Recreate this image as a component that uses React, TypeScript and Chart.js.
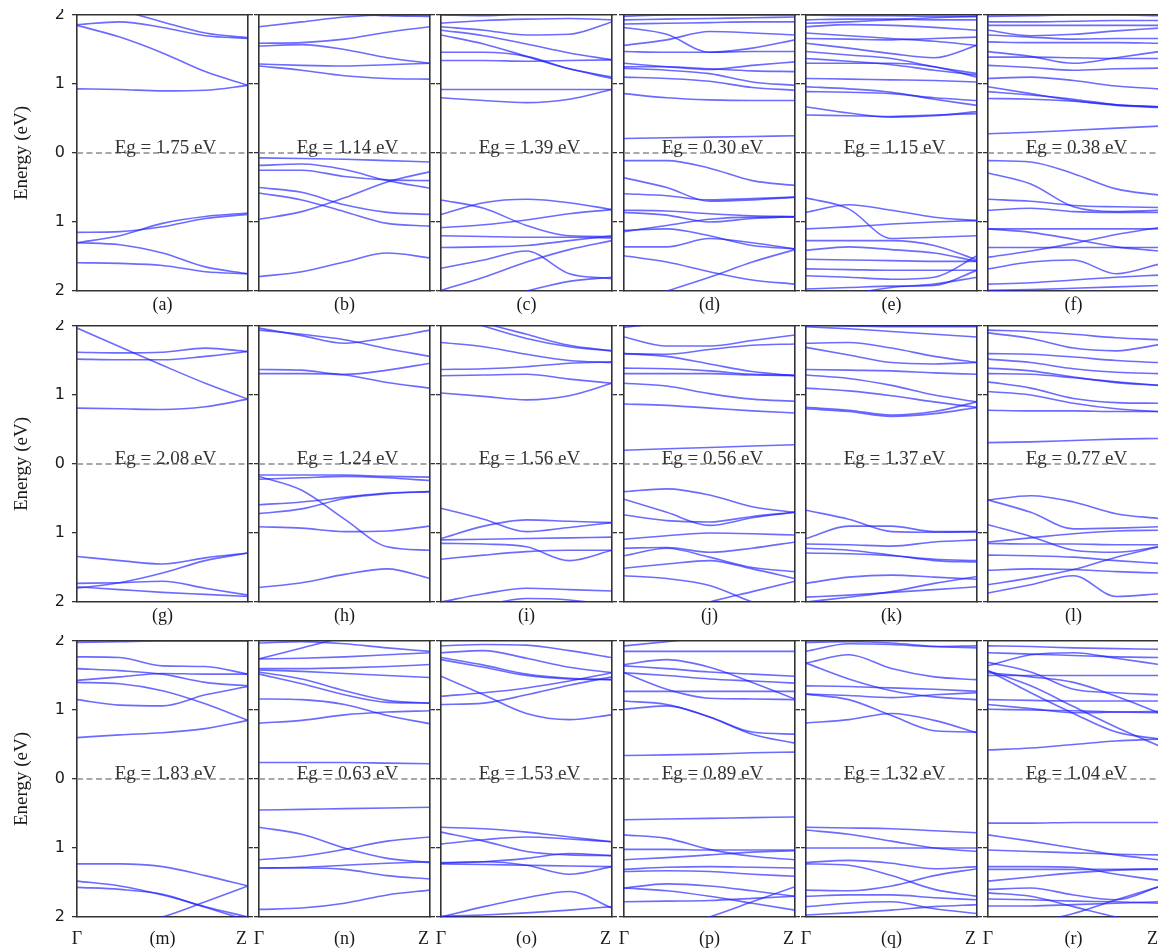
import React, { useEffect, useRef } from 'react';
import { Chart, registerables } from 'chart.js';
Chart.register(...registerables);

// ---------- data ----------
const kPath = [0, 0.25, 0.5, 0.75, 1];
const yTickValues = [2, 1, 0, -1, -2];
const panelLetters = ['a', 'b', 'c', 'd', 'e', 'f', 'g', 'h', 'i', 'j', 'k', 'l', 'm', 'n', 'o', 'p', 'q', 'r'];
const gapValues = ['1.75', '1.14', '1.39', '0.30', '1.15', '0.38', '2.08', '1.24', '1.56', '0.56', '1.37', '0.77', '1.83', '0.63', '1.53', '0.89', '1.32', '1.04'];
const kLabelsBottom = ['Γ', 'Z'];

const bandsA = [
  [1.86, 1.90, 1.82, 1.70, 1.66], [2.30, 2.08, 1.90, 1.74, 1.67], [1.85, 1.68, 1.45, 1.18, 0.98],
  [0.93, 0.92, 0.90, 0.91, 0.98], [-1.15, -1.14, -1.07, -0.95, -0.89], [-1.30, -1.20, -1.02, -0.92, -0.87],
  [-1.30, -1.33, -1.45, -1.65, -1.75], [-1.59, -1.60, -1.63, -1.72, -1.75],
];
const bandsB = [
  [1.83, 1.90, 1.97, 2.00, 2.00], [2.10, 2.05, 2.02, 1.99, 1.98], [1.59, 1.60, 1.65, 1.75, 1.83],
  [1.55, 1.57, 1.50, 1.38, 1.30], [1.29, 1.27, 1.26, 1.28, 1.30], [1.26, 1.20, 1.12, 1.08, 1.07],
  [-0.07, -0.08, -0.09, -0.11, -0.13], [-0.18, -0.16, -0.24, -0.40, -0.51], [-0.25, -0.25, -0.34, -0.39, -0.40],
  [-0.96, -0.85, -0.65, -0.42, -0.27], [-0.50, -0.57, -0.75, -0.86, -0.89], [-0.58, -0.68, -0.85, -1.02, -1.06],
  [-1.79, -1.72, -1.58, -1.45, -1.52],
];
const bandsC = [
  [2.00, 1.99, 2.02, 2.05, 2.08], [1.88, 1.92, 1.94, 1.95, 1.93], [1.83, 1.78, 1.71, 1.72, 1.90],
  [1.78, 1.70, 1.58, 1.45, 1.35], [1.71, 1.58, 1.40, 1.22, 1.10], [1.46, 1.46, 1.40, 1.22, 1.08],
  [1.34, 1.34, 1.33, 1.34, 1.35], [0.92, 0.92, 0.92, 0.92, 0.92], [0.80, 0.76, 0.73, 0.78, 0.92],
  [-0.68, -0.80, -1.05, -1.20, -1.21], [-0.89, -0.72, -0.67, -0.72, -0.82], [-1.08, -1.04, -0.97, -0.88, -0.82],
  [-1.20, -1.21, -1.22, -1.22, -1.23], [-1.37, -1.36, -1.34, -1.27, -1.20], [-1.67, -1.55, -1.42, -1.75, -1.82],
  [-1.99, -1.80, -1.58, -1.40, -1.27], [-2.30, -2.15, -2.00, -1.86, -1.80],
];
const bandsD = [
  [1.98, 2.00, 2.00, 2.00, 2.00], [1.93, 1.94, 1.95, 1.96, 1.97], [1.87, 1.88, 1.89, 1.90, 1.90],
  [1.82, 1.72, 1.46, 1.52, 1.64], [1.56, 1.64, 1.76, 1.74, 1.71], [1.47, 1.46, 1.46, 1.47, 1.47],
  [1.30, 1.25, 1.21, 1.27, 1.32], [1.25, 1.25, 1.22, 1.19, 1.18], [1.23, 1.20, 1.15, 1.03, 0.98],
  [1.10, 1.08, 1.04, 0.95, 0.91], [0.86, 0.80, 0.77, 0.76, 0.76], [0.21, 0.22, 0.23, 0.24, 0.25],
  [-0.11, -0.11, -0.22, -0.40, -0.47], [-0.36, -0.50, -0.70, -0.68, -0.64], [-0.59, -0.62, -0.68, -0.66, -0.64],
  [-0.86, -0.90, -1.00, -0.95, -0.92], [-0.83, -0.84, -0.88, -0.91, -0.92], [-1.12, -1.10, -1.20, -1.34, -1.39],
  [-1.14, -1.05, -0.96, -0.93, -0.93], [-1.36, -1.36, -1.24, -1.30, -1.39], [-1.49, -1.58, -1.72, -1.84, -1.90],
  [-2.20, -2.00, -1.80, -1.58, -1.40],
];
const bandsE = [
  [2.00, 1.99, 1.99, 1.98, 1.98], [1.93, 1.94, 1.94, 1.93, 1.93], [1.88, 1.90, 1.93, 1.96, 1.98],
  [1.83, 1.86, 1.85, 1.82, 1.78], [1.74, 1.70, 1.66, 1.62, 1.56], [1.66, 1.65, 1.64, 1.66, 1.68],
  [1.59, 1.52, 1.44, 1.38, 1.56], [1.47, 1.42, 1.37, 1.25, 1.15], [1.37, 1.33, 1.28, 1.20, 1.13],
  [1.30, 1.30, 1.30, 1.25, 1.10], [1.08, 1.07, 1.06, 1.05, 1.03], [0.96, 0.93, 0.88, 0.78, 0.69],
  [0.89, 0.88, 0.86, 0.80, 0.76], [0.67, 0.58, 0.52, 0.54, 0.60], [0.55, 0.54, 0.53, 0.55, 0.57],
  [-0.65, -0.81, -1.24, -1.22, -1.20], [-0.86, -0.75, -0.83, -0.93, -0.98], [-1.10, -1.07, -1.03, -1.00, -0.98],
  [-1.27, -1.27, -1.27, -1.34, -1.55], [-1.41, -1.36, -1.40, -1.45, -1.57], [-1.54, -1.55, -1.56, -1.57, -1.57],
  [-1.68, -1.69, -1.70, -1.70, -1.70], [-1.78, -1.80, -1.83, -1.80, -1.49], [-1.97, -1.95, -1.93, -1.92, -1.70],
  [-2.20, -2.05, -1.95, -1.90, -1.80],
];
const bandsF = [
  [1.98, 1.99, 2.00, 2.00, 1.99], [1.90, 1.90, 1.91, 1.92, 1.92], [1.85, 1.85, 1.85, 1.85, 1.85],
  [1.78, 1.70, 1.72, 1.77, 1.81], [1.71, 1.68, 1.65, 1.66, 1.66], [1.61, 1.60, 1.60, 1.60, 1.59],
  [1.47, 1.40, 1.30, 1.38, 1.47], [1.39, 1.39, 1.38, 1.37, 1.37], [1.27, 1.24, 1.20, 1.22, 1.23],
  [1.08, 1.10, 1.05, 0.97, 0.93], [0.96, 0.86, 0.76, 0.69, 0.66], [0.89, 0.84, 0.78, 0.70, 0.67],
  [0.79, 0.78, 0.75, 0.70, 0.67], [0.28, 0.30, 0.33, 0.36, 0.39],
  [-0.11, -0.13, -0.30, -0.52, -0.61], [-0.29, -0.45, -0.78, -0.85, -0.83], [-0.67, -0.70, -0.76, -0.78, -0.79],
  [-0.83, -0.80, -0.85, -0.86, -0.86], [-1.10, -1.10, -1.10, -1.10, -1.10], [-1.10, -1.15, -1.25, -1.36, -1.42],
  [-1.37, -1.37, -1.37, -1.37, -1.37], [-1.51, -1.42, -1.31, -1.18, -1.08], [-1.68, -1.58, -1.55, -1.75, -1.61],
  [-1.90, -1.88, -1.84, -1.80, -1.77], [-1.99, -1.98, -1.96, -1.94, -1.92],
];
const bandsG = [
  [1.97, 1.70, 1.43, 1.17, 0.94], [1.62, 1.61, 1.62, 1.68, 1.63], [1.52, 1.51, 1.51, 1.56, 1.63],
  [0.81, 0.80, 0.79, 0.83, 0.94], [-1.34, -1.40, -1.45, -1.36, -1.29], [-1.80, -1.72, -1.58, -1.40, -1.29],
  [-1.73, -1.72, -1.70, -1.80, -1.90], [-1.78, -1.82, -1.86, -1.89, -1.92],
];
const bandsH = [
  [1.97, 1.86, 1.75, 1.83, 1.94], [1.94, 1.88, 1.80, 1.67, 1.56], [1.37, 1.36, 1.30, 1.36, 1.46],
  [1.31, 1.31, 1.29, 1.18, 1.10], [-0.16, -0.16, -0.16, -0.18, -0.19], [-0.22, -0.20, -0.18, -0.20, -0.24],
  [-0.18, -0.38, -0.80, -1.20, -1.25], [-0.59, -0.55, -0.48, -0.42, -0.40], [-0.72, -0.65, -0.50, -0.43, -0.40],
  [-0.91, -0.93, -0.98, -0.97, -0.90], [-1.79, -1.72, -1.60, -1.52, -1.66],
];
const bandsI = [
  [2.20, 2.00, 1.82, 1.70, 1.64], [2.30, 2.05, 1.88, 1.72, 1.64], [1.76, 1.70, 1.59, 1.50, 1.47],
  [1.37, 1.38, 1.41, 1.46, 1.48], [1.28, 1.29, 1.30, 1.23, 1.17], [1.03, 0.98, 0.93, 0.99, 1.17],
  [-0.64, -0.80, -0.98, -0.92, -0.85], [-1.08, -0.90, -0.81, -0.83, -0.85], [-1.10, -1.09, -1.08, -1.07, -1.06],
  [-1.15, -1.16, -1.20, -1.40, -1.25], [-1.38, -1.32, -1.27, -1.25, -1.25], [-2.00, -1.88, -1.80, -1.82, -1.84],
  [-2.20, -2.05, -1.95, -1.97, -2.05],
];
const bandsJ = [
  [1.98, 2.05, 2.10, 2.10, 2.10], [1.84, 1.71, 1.71, 1.79, 1.87], [1.60, 1.59, 1.66, 1.72, 1.74],
  [1.60, 1.56, 1.45, 1.34, 1.28], [1.39, 1.38, 1.35, 1.30, 1.29], [1.31, 1.31, 1.31, 1.29, 1.28],
  [1.17, 1.13, 1.02, 0.94, 0.91], [0.87, 0.85, 0.81, 0.77, 0.74], [0.20, 0.22, 0.24, 0.26, 0.28],
  [-0.40, -0.36, -0.45, -0.62, -0.70], [-0.51, -0.70, -0.89, -0.78, -0.70], [-0.74, -0.82, -0.84, -0.76, -0.70],
  [-1.09, -1.04, -1.00, -1.01, -1.03], [-1.22, -1.21, -1.28, -1.22, -1.13], [-1.33, -1.22, -1.35, -1.50, -1.56],
  [-1.51, -1.45, -1.40, -1.52, -1.66], [-1.62, -1.66, -1.76, -2.00, -2.20], [-2.30, -2.20, -2.00, -1.85, -1.70],
];
const bandsK = [
  [2.02, 2.00, 1.99, 1.99, 1.99], [1.99, 1.96, 1.92, 1.88, 1.84], [1.75, 1.76, 1.68, 1.56, 1.47],
  [1.69, 1.58, 1.47, 1.45, 1.47], [1.37, 1.36, 1.35, 1.32, 1.30], [1.29, 1.24, 1.14, 1.00, 0.90],
  [1.10, 1.06, 0.99, 0.90, 0.82], [0.82, 0.78, 0.71, 0.76, 0.90], [0.80, 0.76, 0.69, 0.73, 0.82],
  [-0.67, -0.80, -0.98, -0.99, -0.98], [-1.08, -0.90, -0.90, -0.98, -0.98], [-1.16, -1.17, -1.19, -1.13, -1.10],
  [-1.22, -1.25, -1.32, -1.40, -1.42], [-1.29, -1.30, -1.33, -1.38, -1.40], [-1.73, -1.64, -1.61, -1.64, -1.67],
  [-2.00, -1.93, -1.85, -1.73, -1.63], [-1.93, -1.90, -1.86, -1.82, -1.78],
];
const bandsL = [
  [1.94, 1.92, 1.88, 1.83, 1.80], [1.90, 1.82, 1.68, 1.64, 1.73], [1.60, 1.59, 1.55, 1.50, 1.47],
  [1.52, 1.47, 1.38, 1.33, 1.31], [1.39, 1.35, 1.26, 1.18, 1.14], [1.31, 1.30, 1.25, 1.19, 1.14],
  [1.19, 1.10, 0.95, 0.89, 0.88], [1.05, 1.00, 0.88, 0.80, 0.76], [0.78, 0.77, 0.77, 0.76, 0.76],
  [0.31, 0.32, 0.34, 0.36, 0.37],
  [-0.52, -0.46, -0.55, -0.72, -0.79], [-0.52, -0.70, -0.94, -0.93, -0.91], [-0.88, -1.05, -1.25, -1.28, -1.20],
  [-1.13, -1.07, -1.01, -0.97, -0.96], [-1.15, -1.16, -1.16, -1.17, -1.17], [-1.32, -1.33, -1.35, -1.40, -1.44],
  [-1.54, -1.52, -1.53, -1.56, -1.58], [-1.75, -1.65, -1.53, -1.35, -1.20], [-1.87, -1.75, -1.62, -1.92, -1.88],
];
const bandsM = [
  [1.98, 1.99, 2.00, 2.00, 2.00], [1.77, 1.76, 1.64, 1.63, 1.52], [1.60, 1.57, 1.52, 1.40, 1.35],
  [1.43, 1.48, 1.53, 1.52, 1.52], [1.40, 1.38, 1.28, 1.09, 0.85], [1.15, 1.07, 1.06, 1.22, 1.34],
  [0.60, 0.64, 0.67, 0.73, 0.85],
  [-1.23, -1.23, -1.27, -1.40, -1.55], [-1.48, -1.55, -1.68, -1.85, -2.00], [-1.57, -1.60, -1.67, -1.86, -2.05],
  [-2.30, -2.15, -2.00, -1.78, -1.55],
];
const bandsN = [
  [1.74, 1.90, 2.05, 2.15, 2.20], [1.97, 1.99, 1.96, 1.90, 1.85], [1.74, 1.75, 1.77, 1.80, 1.83],
  [1.60, 1.60, 1.61, 1.63, 1.66], [1.58, 1.56, 1.53, 1.50, 1.47], [1.52, 1.38, 1.22, 1.11, 1.10],
  [1.55, 1.45, 1.28, 1.14, 1.10], [1.16, 1.15, 1.08, 0.92, 0.80], [0.81, 0.85, 0.93, 0.97, 0.99],
  [0.24, 0.24, 0.24, 0.23, 0.22],
  [-0.45, -0.44, -0.43, -0.42, -0.41], [-0.70, -0.80, -1.00, -1.15, -1.21], [-1.17, -1.12, -1.02, -0.90, -0.84],
  [-1.29, -1.28, -1.25, -1.22, -1.20], [-1.29, -1.29, -1.31, -1.40, -1.45], [-1.89, -1.87, -1.80, -1.68, -1.61],
];
const bandsO = [
  [1.93, 1.95, 1.94, 1.86, 1.76], [1.83, 1.86, 1.75, 1.62, 1.54], [1.76, 1.65, 1.52, 1.46, 1.44],
  [1.73, 1.62, 1.50, 1.45, 1.44], [1.49, 1.22, 0.95, 0.86, 0.93], [1.20, 1.25, 1.32, 1.42, 1.54],
  [1.08, 1.10, 1.22, 1.36, 1.48],
  [-0.70, -0.72, -0.77, -0.84, -0.91], [-0.77, -0.90, -1.05, -1.10, -1.11], [-0.94, -0.88, -0.84, -0.87, -0.91],
  [-1.21, -1.20, -1.25, -1.38, -1.27], [-1.22, -1.20, -1.15, -1.08, -1.11], [-1.23, -1.24, -1.25, -1.26, -1.27],
  [-2.00, -1.85, -1.72, -1.63, -1.87], [-1.99, -1.97, -1.94, -1.90, -1.85],
];
const bandsP = [
  [1.93, 1.99, 2.05, 2.10, 2.10], [1.85, 1.85, 1.85, 1.85, 1.85], [1.66, 1.73, 1.62, 1.40, 1.16],
  [1.64, 1.60, 1.55, 1.52, 1.49], [1.54, 1.50, 1.45, 1.42, 1.39], [1.54, 1.30, 1.17, 1.16, 1.15],
  [1.27, 1.27, 1.27, 1.27, 1.27], [1.13, 1.08, 0.90, 0.65, 0.52], [1.01, 1.06, 0.90, 0.68, 0.65],
  [0.34, 0.35, 0.36, 0.38, 0.39],
  [-0.59, -0.58, -0.57, -0.56, -0.55], [-0.81, -0.86, -1.02, -1.12, -1.17], [-1.02, -1.02, -1.03, -1.03, -1.03],
  [-1.17, -1.14, -1.10, -1.06, -1.04], [-1.34, -1.33, -1.34, -1.38, -1.41], [-1.31, -1.28, -1.27, -1.28, -1.29],
  [-1.58, -1.52, -1.55, -1.62, -1.70], [-1.78, -1.77, -1.76, -1.73, -1.70], [-2.40, -2.20, -2.00, -1.78, -1.56],
  [-1.58, -1.62, -1.70, -1.80, -1.90],
];
const bandsQ = [
  [1.98, 1.99, 1.97, 1.92, 1.90], [1.85, 1.96, 1.95, 1.92, 1.93], [1.68, 1.80, 1.60, 1.48, 1.44],
  [1.68, 1.45, 1.28, 1.19, 1.15], [1.35, 1.34, 1.32, 1.30, 1.27], [1.23, 1.21, 1.18, 1.22, 1.25],
  [1.23, 1.15, 0.92, 0.70, 0.68], [0.81, 0.86, 0.95, 0.85, 0.67],
  [-0.70, -0.71, -0.72, -0.75, -0.78], [-0.74, -0.80, -0.90, -1.00, -1.05], [-1.00, -1.00, -1.00, -1.00, -1.00],
  [-1.21, -1.18, -1.22, -1.30, -1.27], [-1.23, -1.25, -1.40, -1.60, -1.70], [-1.61, -1.62, -1.55, -1.40, -1.30],
  [-1.70, -1.68, -1.68, -1.72, -1.75], [-1.85, -1.80, -1.78, -1.88, -1.95], [-1.97, -1.94, -1.90, -1.85, -1.82],
];
const bandsR = [
  [1.93, 1.92, 1.90, 1.89, 1.88], [1.83, 1.81, 1.79, 1.77, 1.76], [1.64, 1.80, 1.83, 1.75, 1.66],
  [1.69, 1.55, 1.30, 1.25, 1.22], [1.57, 1.35, 1.05, 0.75, 0.48], [1.57, 1.25, 0.95, 0.68, 0.58],
  [1.54, 1.48, 1.40, 1.20, 0.96], [1.50, 1.50, 1.50, 1.50, 1.50], [1.15, 1.14, 1.13, 1.13, 1.13],
  [1.08, 1.02, 0.96, 0.97, 0.98], [1.01, 1.00, 0.99, 0.97, 0.96], [0.42, 0.45, 0.50, 0.55, 0.58],
  [-0.64, -0.64, -0.63, -0.63, -0.63], [-0.81, -0.90, -1.00, -1.10, -1.17], [-1.03, -1.05, -1.07, -1.09, -1.10],
  [-1.27, -1.27, -1.28, -1.38, -1.47], [-1.31, -1.31, -1.31, -1.31, -1.31], [-1.48, -1.42, -1.36, -1.32, -1.30],
  [-1.60, -1.58, -1.68, -1.75, -1.56], [-1.74, -1.75, -1.77, -1.78, -1.80], [-1.84, -1.84, -1.82, -1.80, -1.78],
  [-2.30, -2.10, -1.95, -1.75, -1.56], [-1.65, -1.70, -1.85, -2.00, -2.10],
];
const allBands = [bandsA, bandsB, bandsC, bandsD, bandsE, bandsF, bandsG, bandsH, bandsI,
  bandsJ, bandsK, bandsL, bandsM, bandsN, bandsO, bandsP, bandsQ, bandsR];

// ---------- layout / style ----------
const COL_LEFT = [77, 259, 441, 624, 806, 988];
const ROW_TOP = [15, 326, 641];
const PLOT_W = 171;
const PLOT_H = 276;
const PAD_R = 8;
const PAD_T = 6;
const PAD_B = 34;
const SERIF = "'Liberation Serif', 'Times New Roman', serif";
const SANS = "'DejaVu Sans', sans-serif";
const AXIS_COLOR = '#333333';
const BAND_COLOR = 'rgba(30, 30, 255, 0.66)';

const egPlugin = {
  id: 'egLabel',
  afterDatasetsDraw(chart: any, _args: any, opts: any) {
    const { ctx, scales } = chart;
    ctx.save();
    ctx.font = `19px ${SERIF}`;
    ctx.fillStyle = '#333';
    ctx.textAlign = 'center';
    ctx.textBaseline = 'alphabetic';
    ctx.fillText(opts.text, scales.x.getPixelForValue(0.5) + 3, scales.y.getPixelForValue(0) - 0.5);
    ctx.restore();
  },
};

function zeroPad(s: any) {
  s.paddingTop = 0; s.paddingBottom = 0; s.paddingLeft = 0; s.paddingRight = 0;
}

function Panel({ idx }: { idx: number }) {
  const ref = useRef<HTMLCanvasElement>(null);
  const row = Math.floor(idx / 6);
  const col = idx % 6;
  const plotLeft = COL_LEFT[col];
  const plotTop = ROW_TOP[row];
  const padL = col === 0 ? plotLeft : 8;
  const W = padL + PLOT_W + PAD_R;
  const H = PAD_T + PLOT_H + PAD_B;
  const isBottom = row === 2;

  useEffect(() => {
    if (!ref.current) return;
    const bandSets = allBands[idx].map((band) => ({
      data: kPath.map((x, i) => ({ x, y: band[i] })),
      borderColor: BAND_COLOR,
      borderWidth: 1.6,
      pointRadius: 0,
      cubicInterpolationMode: 'monotone' as const,
      fill: false,
    }));
    const zeroLine = {
      data: [{ x: 0, y: 0 }, { x: 1, y: 0 }],
      borderColor: '#8c8c8c',
      borderWidth: 1.4,
      borderDash: [6, 3.5],
      pointRadius: 0,
      tension: 0,
      fill: false,
    };
    const xTickVals = isBottom ? [0, 0.5, 0.962] : [0.5];
    const xTickText = isBottom
      ? [kLabelsBottom[0], `(${panelLetters[idx]})`, kLabelsBottom[1]]
      : [`(${panelLetters[idx]})`];

    const yCommon = {
      type: 'linear' as const,
      min: -2,
      max: 2,
      afterBuildTicks: (s: any) => { s.ticks = yTickValues.map((v) => ({ value: v })); },
      grid: { drawOnChartArea: false, drawTicks: true, tickLength: 5, color: AXIS_COLOR, lineWidth: 1.3 },
      border: { display: true, color: AXIS_COLOR, width: 1.6 },
    };

    const chart = new Chart(ref.current, {
      type: 'line',
      data: { datasets: [...bandSets, zeroLine] as any },
      plugins: [egPlugin as any],
      options: {
        responsive: false,
        animation: false,
        devicePixelRatio: 1,
        events: [],
        layout: { padding: { top: PAD_T, left: 0, right: 0, bottom: 0 }, autoPadding: false } as any,
        plugins: {
          legend: { display: false },
          tooltip: { enabled: false },
          egLabel: { text: `Eg = ${gapValues[idx]} eV` },
        } as any,
        scales: {
          x: {
            type: 'linear',
            position: 'bottom',
            min: 0,
            max: 1,
            afterBuildTicks: (s: any) => { s.ticks = xTickVals.map((v) => ({ value: v })); },
            ticks: {
              autoSkip: false,
              maxRotation: 0,
              minRotation: 0,
              padding: isBottom ? 11 : 3,
              font: { family: SERIF, size: 18 },
              color: '#1a1a1a',
              callback: (_v: any, i: number) => xTickText[i],
            },
            grid: { display: false, drawTicks: false },
            border: { display: true, color: AXIS_COLOR, width: 1.6 },
            afterFit: (s: any) => { s.height = PAD_B; zeroPad(s); },
          },
          xTop: {
            type: 'linear',
            position: 'top',
            min: 0,
            max: 1,
            ticks: { display: false },
            grid: { display: false, drawTicks: false },
            border: { display: true, color: AXIS_COLOR, width: 1.6 },
            afterFit: (s: any) => { s.height = 0; zeroPad(s); },
          },
          y: {
            ...yCommon,
            position: 'left',
            ticks: {
              display: col === 0,
              padding: 7,
              font: { family: SANS, size: 16 },
              color: '#1a1a1a',
              callback: (v: any) => String(Math.abs(Number(v))),
            },
            title: {
              display: col === 0,
              text: 'Energy (eV)',
              font: { family: SERIF, size: 19 },
              color: '#1a1a1a',
              padding: { top: 11, bottom: 0 },
            },
            afterFit: (s: any) => { s.width = padL; zeroPad(s); },
          },
          y2: {
            ...yCommon,
            position: 'right',
            ticks: { display: false },
            afterFit: (s: any) => { s.width = PAD_R; zeroPad(s); },
          },
        } as any,
      },
    });
    return () => chart.destroy();
  }, [idx]);

  return (
    <canvas
      ref={ref}
      width={W}
      height={H}
      style={{ position: 'absolute', left: plotLeft - padL, top: plotTop - PAD_T, width: W, height: H }}
    />
  );
}

export default function App() {
  return (
    <div style={{ position: 'absolute', left: 0, top: 0, width: 1158, height: 951, overflow: 'hidden', background: '#fff' }}>
      {panelLetters.map((_, i) => <Panel key={i} idx={i} />)}
    </div>
  );
}
